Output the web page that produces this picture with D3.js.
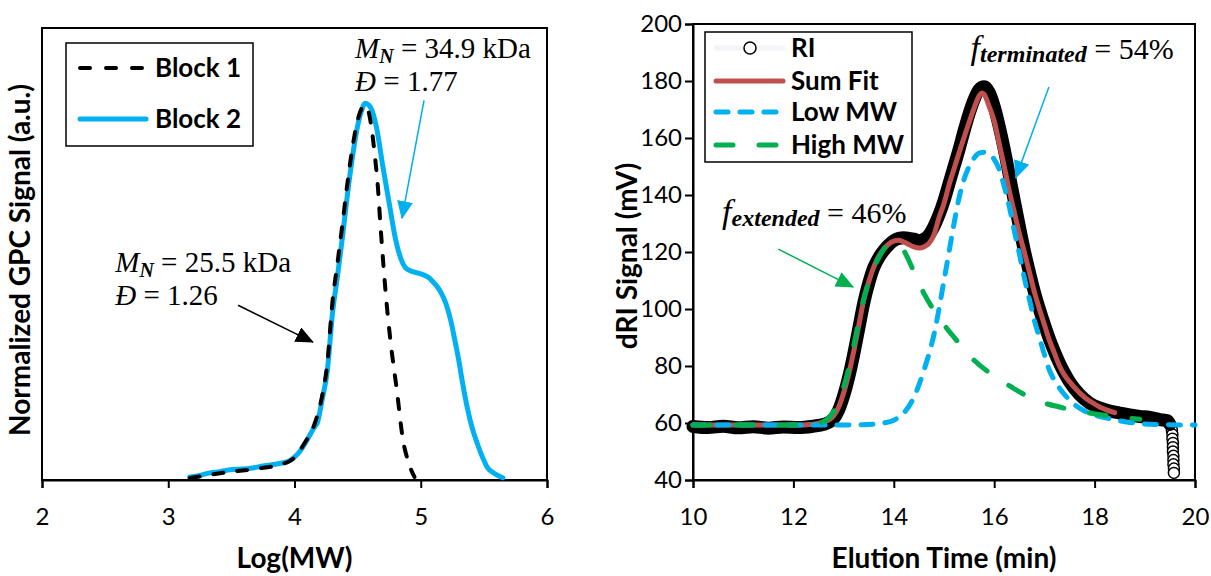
<!DOCTYPE html>
<html>
<head>
<meta charset="utf-8">
<script src="https://cdn.jsdelivr.net/npm/d3@7"></script>
<style>
body{margin:0;background:#fff;}
svg text{font-family:Lato,"Open Sans",sans-serif;fill:#000;}
.serif{font-family:"Liberation Serif","Times New Roman",serif;}
</style>
</head>
<body>
<svg width="1211" height="576"></svg>
<script>
// left panel: normalized GPC traces vs log(MW)
var logTicks = [2,3,4,5,6];
var block1 = [[3.17,0.005],[3.30,0.012],[3.50,0.022],[3.70,0.030],[3.90,0.042],[4.00,0.060],[4.08,0.098],
	[4.16,0.150],[4.22,0.225],[4.26,0.310],[4.30,0.470],[4.34,0.575],[4.38,0.680],[4.42,0.790],[4.46,0.885],
	[4.50,0.955],[4.53,0.985],[4.555,0.995],[4.58,0.985],[4.61,0.935],[4.64,0.850],[4.66,0.780],[4.68,0.680],
	[4.70,0.590],[4.72,0.505],[4.76,0.370],[4.81,0.240],[4.86,0.105],[4.90,0.050],[4.95,0.008]];
var block2 = [[3.17,0.008],[3.25,0.012],[3.33,0.019],[3.41,0.022],[3.49,0.027],[3.58,0.029],[3.67,0.032],
	[3.75,0.037],[3.81,0.040],[3.88,0.044],[3.94,0.048],[4.00,0.061],[4.04,0.075],[4.08,0.095],[4.12,0.118],
	[4.16,0.142],[4.18,0.151],[4.22,0.215],[4.26,0.290],[4.30,0.440],[4.34,0.540],[4.38,0.645],[4.42,0.760],
	[4.46,0.860],[4.50,0.940],[4.53,0.980],[4.56,1.000],[4.59,0.995],[4.62,0.975],[4.65,0.935],[4.70,0.832],
	[4.75,0.735],[4.80,0.640],[4.84,0.590],[4.88,0.563],[4.92,0.555],[4.97,0.550],[5.02,0.545],[5.06,0.538],
	[5.10,0.525],[5.15,0.504],[5.20,0.468],[5.24,0.420],[5.27,0.371],[5.30,0.320],[5.33,0.260],[5.37,0.190],
	[5.41,0.135],[5.45,0.095],[5.49,0.060],[5.53,0.032],[5.58,0.018],[5.65,0.006]];

// right panel: dRI signal vs elution time
var timeTicks = [10,12,14,16,18,20];
var signalTicks = [40,60,80,100,120,140,160,180,200];
var riData = [[10.0,58.8],[10.3,58.4],[10.6,58.9],[10.9,58.3],[11.2,58.7],[11.5,58.2],[11.8,58.6],[12.1,58.4],
	[12.4,58.9],[12.6,59.5],[12.8,61.5],[12.9,64.5],[13.0,69.5],[13.1,76],[13.2,84],[13.3,93],[13.4,102],
	[13.5,109],[13.6,114.5],[13.7,118],[13.8,120.5],[13.9,122.5],[14.0,124],[14.1,124.8],[14.2,125],[14.3,124.8],
	[14.4,124.5],[14.5,124],[14.6,124.5],[14.7,126],[14.8,129],[14.9,133],[15.0,138],[15.1,144],[15.2,150],
	[15.3,156],[15.4,162.5],[15.5,168.5],[15.6,173.5],[15.7,177],[15.8,178],[15.9,176],[16.0,171],[16.1,164],
	[16.2,156],[16.3,147],[16.4,138],[16.5,129],[16.6,120.5],[16.7,113],[16.8,106],[16.9,100],[17.0,94.5],
	[17.1,89.5],[17.2,85],[17.3,81],[17.4,77.5],[17.5,74.5],[17.7,70],[17.9,67],[18.1,65.3],[18.3,64.2],
	[18.5,63.5],[18.7,62.8],[18.9,62.3],[19.1,62],[19.3,61.2],[19.45,60.8],[19.5,59.5]];
var riDrop = [[19.54,57.5],[19.55,56],[19.55,54.5],[19.56,53],[19.56,51.5],[19.56,50],[19.57,48.5],
	[19.57,47],[19.57,45.5],[19.58,44],[19.58,42.5]];
var sumFit = [[10.0,59.3],[10.5,59.3],[11.0,59.3],[11.5,59.3],[12.0,59.3],[12.4,59.6],[12.6,60.3],[12.8,62.5],
	[12.9,65.5],[13.0,70.5],[13.1,77],[13.2,85],[13.3,94],[13.4,103],[13.5,109.5],[13.6,114.7],[13.7,118.5],
	[13.8,121],[13.9,122.8],[14.0,123.8],[14.1,124.1],[14.2,123.5],[14.3,122.6],[14.4,121.8],[14.5,121.4],
	[14.6,121.8],[14.7,123],[14.8,126],[14.9,132],[15.0,137],[15.1,143.5],[15.2,149.2],[15.3,154.8],[15.4,160.2],
	[15.5,165.5],[15.6,170.5],[15.7,174.8],[15.75,175.8],[15.8,175.3],[15.9,171],[16.0,166],[16.1,158],
	[16.2,150],[16.3,141.5],[16.4,134],[16.5,126.5],[16.6,120],[16.7,113],[16.8,106],[16.9,100],[17.0,94.5],
	[17.1,89],[17.2,84.5],[17.3,80],[17.4,76.8],[17.5,74.5],[17.65,71.5],[17.8,69],[17.95,67.2],[18.1,65.6],
	[18.25,64.5],[18.4,63.6]];
var lowMW = [[10.0,59.3],[11.0,59.3],[12.0,59.3],[13.0,59.3],[13.5,59.5],[13.8,60],[14.0,61],[14.2,63.5],
	[14.4,69],[14.6,78.5],[14.8,91],[15.0,110],[15.1,120],[15.2,130],[15.3,139],[15.4,145.5],[15.5,150],
	[15.6,153],[15.7,154.7],[15.8,155],[15.9,154.5],[16.0,152.5],[16.1,149],[16.2,143],[16.3,136],[16.4,127.5],
	[16.5,119.5],[16.6,111],[16.7,103.5],[16.8,96],[16.9,90],[17.0,84],[17.1,78.5],[17.2,75],[17.4,70],
	[17.6,66.5],[17.8,64.2],[18.0,62.8],[18.3,61.5],[18.7,60.2],[19.2,59.5],[20.0,59.3]];
var highMW = [[10.0,59.3],[11.0,59.3],[12.0,59.3],[12.4,59.6],[12.6,60.5],[12.8,64],[12.9,67.5],[13.0,72.5],
	[13.1,79],[13.2,87],[13.3,95.5],[13.4,103.5],[13.5,109.5],[13.6,114.5],[13.7,118],[13.8,121],[13.9,122.7],
	[14.0,123.3],[14.1,122.8],[14.2,120.5],[14.3,117],[14.4,113],[14.5,109],[14.6,105.5],[14.8,99.5],
	[15.0,94.5],[15.3,88],[15.6,82],[16.0,76.5],[16.4,72],[16.8,68.2],[17.3,65.6],[17.8,63.8],[18.3,62.5],
	[18.9,61.3]];

var svg = d3.select('svg');

var xL = d3.scaleLinear().domain([2,6]).range([42,547]);
var yL = d3.scaleLinear().domain([0,1.2]).range([480,28]);
var xR = d3.scaleLinear().domain([10,20]).range([693,1195]);
var yR = d3.scaleLinear().domain([40,200]).range([480,24]);

var blue = '#00B0F0', red = '#C0504D', green = '#00B050';

// arrow heads
var defs = svg.append('defs');
[['headBlack','#000'],['headBlue',blue],['headGreen',green]].forEach(function(m){
	defs.append('marker').attr('id',m[0]).attr('markerUnits','userSpaceOnUse')
		.attr('viewBox','0 0 18 16').attr('refX',17).attr('refY',8)
		.attr('markerWidth',18).attr('markerHeight',16).attr('orient','auto')
		.append('path').attr('d','M0,0 L18,8 L0,16 Z').attr('fill',m[1]);
});

function styleAxis(g){
	g.selectAll('.domain').attr('stroke','#000').attr('stroke-width',2);
	g.selectAll('.tick line').attr('stroke','#000').attr('stroke-width',2);
	g.selectAll('.tick text').attr('font-size',24).attr('fill','#000');
}

// ---------- left panel ----------
var left = svg.append('g');
left.append('rect').attr('x',xL(2)).attr('y',yL(1.2)).attr('width',xL(6)-xL(2)).attr('height',yL(0)-yL(1.2))
	.attr('fill','none').attr('stroke','#000').attr('stroke-width',2);
left.append('g').attr('transform','translate(0,'+yL(0)+')')
	.call(d3.axisBottom(xL).tickValues(logTicks).tickSize(8).tickPadding(20).tickFormat(d3.format('d')))
	.call(styleAxis);

var lineL = d3.line().x(function(d){return xL(d[0]);}).y(function(d){return yL(d[1]);}).curve(d3.curveMonotoneX);
left.append('path').datum(block2).attr('d',lineL).attr('fill','none').attr('stroke',blue)
	.attr('stroke-width',5).attr('stroke-linejoin','round').attr('stroke-linecap','round');
left.append('path').datum(block1).attr('d',lineL).attr('fill','none').attr('stroke','#000')
	.attr('stroke-width',4).attr('stroke-dasharray','10,14').attr('stroke-linecap','round');

left.append('text').attr('x',xL(4)).attr('y',568).attr('text-anchor','middle')
	.attr('font-size',28).attr('font-weight','bold').text('Log(MW)');
left.append('text').attr('transform','translate(30,260) rotate(-90)').attr('text-anchor','middle')
	.attr('font-size',28).attr('font-weight','bold').text('Normalized GPC Signal (a.u.)');

// legend
left.append('rect').attr('x',66).attr('y',43).attr('width',187).attr('height',103)
	.attr('fill','#fff').attr('stroke','#000').attr('stroke-width',1.5);
left.append('line').attr('x1',80).attr('x2',146).attr('y1',68).attr('y2',68).attr('stroke','#000')
	.attr('stroke-width',4).attr('stroke-dasharray','10,16').attr('stroke-linecap','round');
left.append('line').attr('x1',80).attr('x2',146).attr('y1',119).attr('y2',119).attr('stroke',blue)
	.attr('stroke-width',5).attr('stroke-linecap','round');
left.append('text').attr('x',155).attr('y',77).attr('font-size',26).attr('font-weight','bold').text('Block 1');
left.append('text').attr('x',155).attr('y',128).attr('font-size',26).attr('font-weight','bold').text('Block 2');

// annotations
function mnLabel(g, x, y, value, disp){
	var t = g.append('text').attr('class','serif').attr('x',x).attr('y',y).attr('font-size',29);
	t.append('tspan').attr('font-style','italic').text('M');
	t.append('tspan').attr('font-style','italic').attr('font-weight','bold').attr('font-size',20).attr('dy',5).text('N');
	t.append('tspan').attr('dy',-5).text(' = ' + value + ' kDa');
	var t2 = g.append('text').attr('class','serif').attr('x',x).attr('y',y+33).attr('font-size',29);
	t2.append('tspan').attr('font-style','italic').text('\u0110');
	t2.append('tspan').text(' = ' + disp);
}
mnLabel(left, xL(4.48), yL(1.12), '34.9', '1.77');
mnLabel(left, xL(2.58), yL(0.553), '25.5', '1.26');

left.append('line').attr('x1',xL(5.026)).attr('y1',yL(1.008)).attr('x2',xL(4.851)).attr('y2',yL(0.695))
	.attr('stroke',blue).attr('stroke-width',1.5).attr('marker-end','url(#headBlue)');
left.append('line').attr('x1',xL(3.553)).attr('y1',yL(0.464)).attr('x2',xL(4.146)).attr('y2',yL(0.366))
	.attr('stroke','#000').attr('stroke-width',1.5).attr('marker-end','url(#headBlack)');

// ---------- right panel ----------
var right = svg.append('g');
right.append('rect').attr('x',xR(10)).attr('y',yR(200)).attr('width',xR(20)-xR(10)).attr('height',yR(40)-yR(200))
	.attr('fill','none').attr('stroke','#000').attr('stroke-width',2);
right.append('g').attr('transform','translate(0,'+yR(40)+')')
	.call(d3.axisBottom(xR).tickValues(timeTicks).tickSize(8).tickPadding(20))
	.call(styleAxis);
right.append('g').attr('transform','translate('+xR(10)+',0)')
	.call(d3.axisLeft(yR).tickValues(signalTicks).tickSize(8).tickPadding(3))
	.call(styleAxis);

var lineR = d3.line().x(function(d){return xR(d[0]);}).y(function(d){return yR(d[1]);}).curve(d3.curveMonotoneX);

right.selectAll('.drop').data(riDrop).enter().append('circle')
	.attr('cx',function(d){return xR(d[0]);}).attr('cy',function(d){return yR(d[1]);})
	.attr('r',5.5).attr('fill','#fff').attr('stroke','#000').attr('stroke-width',1.5);
right.append('path').datum(riData).attr('d',lineR).attr('fill','none').attr('stroke','#000')
	.attr('stroke-width',13).attr('stroke-linejoin','round').attr('stroke-linecap','round');
right.append('path').datum(sumFit).attr('d',lineR).attr('fill','none').attr('stroke',red)
	.attr('stroke-width',5).attr('stroke-linejoin','round').attr('stroke-linecap','round');
right.append('path').datum(lowMW).attr('d',lineR).attr('fill','none').attr('stroke',blue)
	.attr('stroke-width',5).attr('stroke-dasharray','12,12').attr('stroke-linecap','round');
right.append('path').datum(highMW).attr('d',lineR).attr('fill','none').attr('stroke',green)
	.attr('stroke-width',5).attr('stroke-dasharray','17,26').attr('stroke-linecap','round');

right.append('text').attr('x',(xR(10)+xR(20))/2).attr('y',568).attr('text-anchor','middle')
	.attr('font-size',28).attr('font-weight','bold').text('Elution Time (min)');
right.append('text').attr('transform','translate(637,256) rotate(-90)').attr('text-anchor','middle')
	.attr('font-size',28).attr('font-weight','bold').text('dRI Signal (mV)');

// legend
right.append('rect').attr('x',705).attr('y',32).attr('width',207).attr('height',130)
	.attr('fill','#fff').attr('stroke','#000').attr('stroke-width',1.5);
var legR = [
	{name:'RI', y:48},
	{name:'Sum Fit', y:81, color:red},
	{name:'Low MW', y:112, color:blue, dash:'12,12'},
	{name:'High MW', y:145, color:green, dash:'17,26'}
];
legR.forEach(function(d){
	if(d.color){
		right.append('line').attr('x1',716).attr('x2',783).attr('y1',d.y).attr('y2',d.y).attr('stroke',d.color)
			.attr('stroke-width',5).attr('stroke-linecap','round').attr('stroke-dasharray',d.dash || null);
	} else {
		right.append('line').attr('x1',716).attr('x2',783).attr('y1',d.y).attr('y2',d.y).attr('stroke','#f2f4f8')
			.attr('stroke-width',5).attr('stroke-linecap','round');
		right.append('circle').attr('cx',750).attr('cy',d.y).attr('r',6).attr('fill','#fff')
			.attr('stroke','#000').attr('stroke-width',1.5);
	}
	right.append('text').attr('x',791).attr('y',d.y+9).attr('font-size',26).attr('font-weight','bold').text(d.name);
});

function fLabel(g, x, y, sub, value){
	var t = g.append('text').attr('class','serif').attr('x',x).attr('y',y).attr('font-size',30);
	t.append('tspan').attr('font-style','italic').attr('font-size',34).text('f');
	t.append('tspan').attr('font-style','italic').attr('font-weight','bold').attr('font-size',24).attr('dy',3).text(sub);
	t.append('tspan').attr('dy',-3).text(' = ' + value);
}
fLabel(right, xR(15.53), yR(187.7), 'terminated', '54%');
fLabel(right, xR(10.58), yR(130.2), 'extended', '46%');

right.append('line').attr('x1',xR(17.09)).attr('y1',yR(177.9)).attr('x2',xR(16.43)).attr('y2',yR(146))
	.attr('stroke',blue).attr('stroke-width',1.5).attr('marker-end','url(#headBlue)');
right.append('line').attr('x1',xR(11.70)).attr('y1',yR(121)).attr('x2',xR(13.19)).attr('y2',yR(107.7))
	.attr('stroke',green).attr('stroke-width',1.5).attr('marker-end','url(#headGreen)');
</script>
</body>
</html>
